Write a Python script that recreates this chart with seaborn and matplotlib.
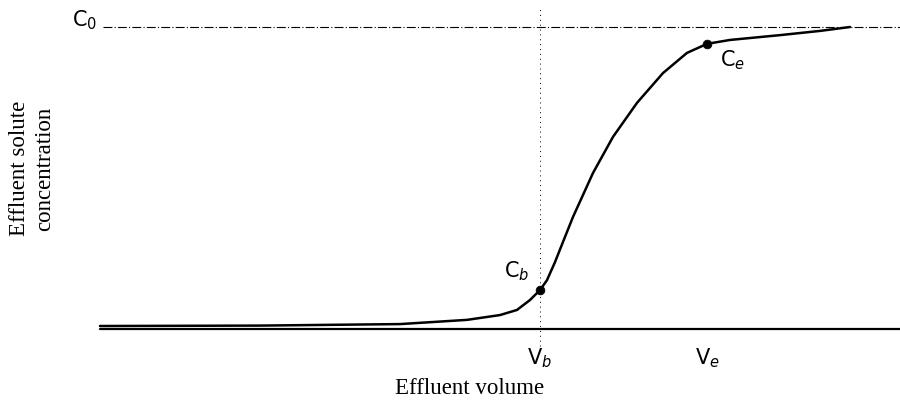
import matplotlib
matplotlib.use("Agg")
import matplotlib.pyplot as plt
import seaborn as sns
import pandas as pd

# Breakthrough curve (volume in arbitrary units, concentration as C/C0)
volume = [1.0, 2.6, 4.0, 4.67, 5.0, 5.17, 5.3, 5.4, 5.47, 5.55, 5.63, 5.73,
          5.93, 6.13, 6.37, 6.63, 6.87, 7.07, 7.3, 7.8, 8.2, 8.5]
conc = [0.0066, 0.008, 0.013, 0.027, 0.043, 0.060, 0.093, 0.126, 0.159, 0.219,
        0.286, 0.369, 0.515, 0.635, 0.748, 0.847, 0.914, 0.944, 0.957, 0.973,
        0.987, 1.0]

# breakthrough / exhaustion points
pt_names = ["b", "e"]
pt_volume = [5.4, 7.07]
pt_conc = [0.126, 0.944]

df = pd.DataFrame({"volume": volume, "conc": conc})
pts = pd.DataFrame({"volume": pt_volume, "conc": pt_conc, "name": pt_names})

sns.set_style("white")
plt.rcParams["font.family"] = ["DejaVu Sans"]

fig = plt.figure(figsize=(9, 4.04), dpi=100)
ax = fig.add_axes([0, 0, 1, 1])
ax.set_xlim(0, 9)
ax.set_ylim(-76 / 301, 328 / 301)
ax.axis("off")

# axis baseline and C0 level
ax.plot([1.0, 9.0], [-0.004, -0.004], color="black", lw=1.6)
ax.plot([1.03, 9.0], [1, 1], color="black", lw=0.8, ls=(0, (8, 2, 1, 2)))
# vertical line at Vb
ax.plot([5.4, 5.4], [-0.06, 1.06], color="black", lw=0.7, ls=(0, (1, 4)))

sns.lineplot(data=df, x="volume", y="conc", ax=ax, color="black", lw=1.8, sort=False)
sns.scatterplot(data=pts, x="volume", y="conc", ax=ax, color="black", s=40,
                edgecolor="black", zorder=5, legend=False)

lab = dict(fontsize=15, color="black", family="DejaVu Sans")
ax.text(0.72, 1.023, r"C$_0$", ha="left", va="center", **lab)
ax.text(5.04, 0.19, r"C$_b$", ha="left", va="center", **lab)
ax.text(7.2, 0.89, r"C$_e$", ha="left", va="center", **lab)
ax.text(5.4, -0.06, r"V$_b$", ha="center", va="top", **lab)
ax.text(7.07, -0.06, r"V$_e$", ha="center", va="top", **lab)

serif = dict(fontsize=16.5, color="black", family="Liberation Serif")
ax.text(4.7, -0.2, "Effluent volume", ha="center", va="center", **serif)
ax.text(0.32, 0.53, "Effluent solute\nconcentration", ha="center", va="center",
        rotation=90, linespacing=1.3, **serif)

fig.savefig("out.png", dpi=100)
